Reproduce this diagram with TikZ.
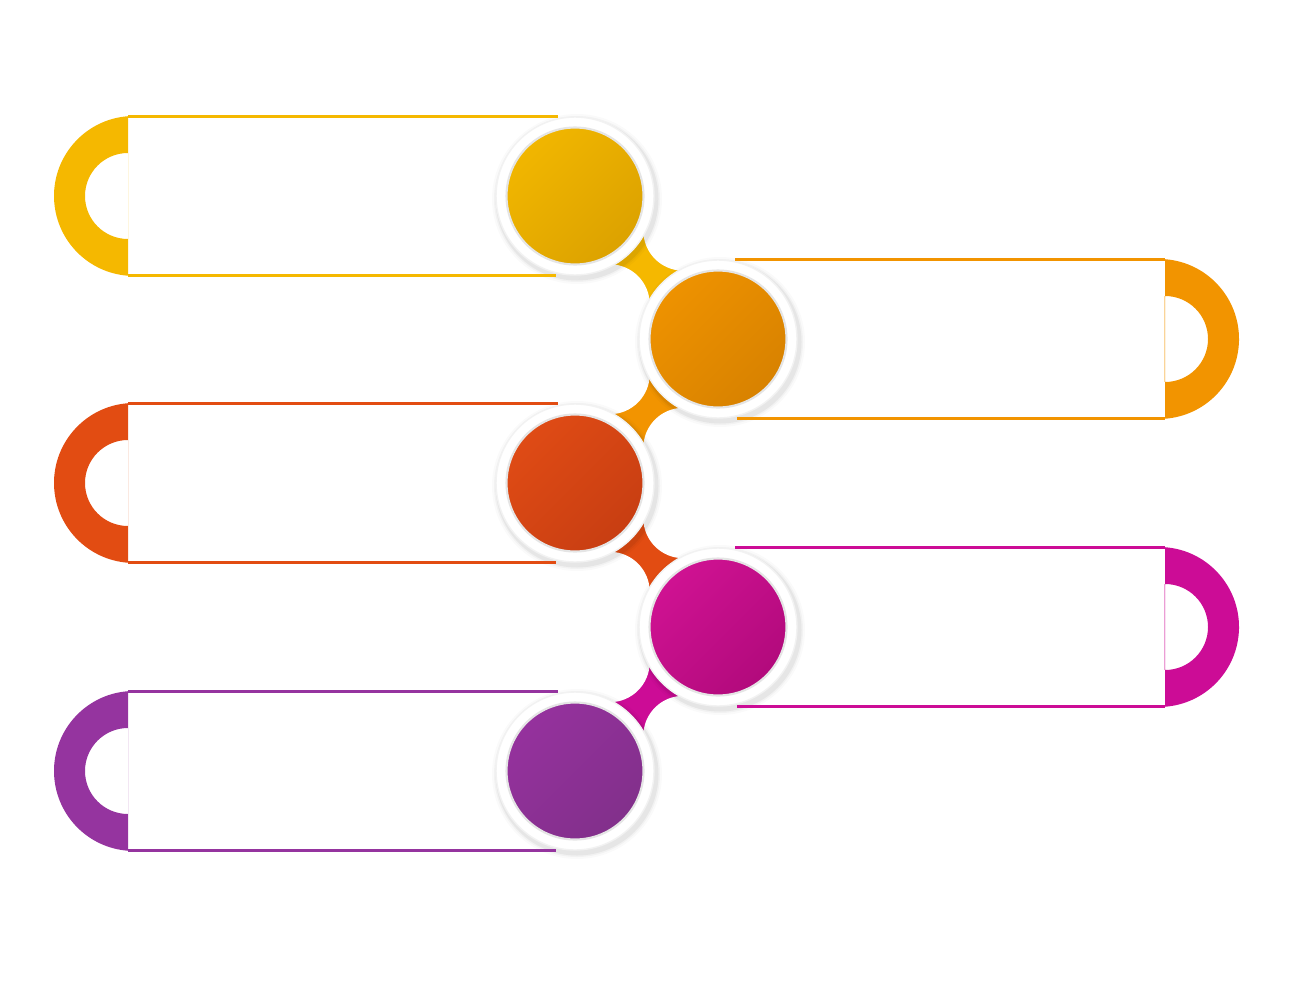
\documentclass[tikz,border=0pt]{standalone}
\usetikzlibrary{calc,backgrounds}
\definecolor{yel}{HTML}{F5B800}
\definecolor{yelA}{HTML}{F1B600}
\definecolor{yelB}{HTML}{DCA200}
\definecolor{ora}{HTML}{F29400}
\definecolor{oraA}{HTML}{EE9200}
\definecolor{oraB}{HTML}{D88200}
\definecolor{rd}{HTML}{E24C12}
\definecolor{rdA}{HTML}{DF4B15}
\definecolor{rdB}{HTML}{C83E12}
\definecolor{mag}{HTML}{CC0C96}
\definecolor{magA}{HTML}{CF1292}
\definecolor{magB}{HTML}{B20A7C}
\definecolor{pur}{HTML}{95349F}
\definecolor{purA}{HTML}{95319D}
\definecolor{purB}{HTML}{82308B}
\begin{document}
\begin{tikzpicture}[x=0.02cm, y=-0.02cm,
  ring/.style={circle, fill=white, draw=black!5, line width=.8pt, minimum size=3.16cm, inner sep=0pt},
  disc/.style 2 args={circle, minimum size=2.74cm, inner sep=0pt, top color=#1, bottom color=#2,
    shading angle=45, draw=black!10, line width=1.2pt},
  bar/.style={line width=1.2pt}]
\useasboundingbox (0,0) rectangle (1293,980);

% bars on the left
\foreach \y/\col in {196/yel, 483/rd, 771/pur}{
  \fill[\col, even odd rule] (128,\y-79.8) arc[start angle=265.7, end angle=94.3, radius=80] -- cycle
    (128,\y+43) arc[start angle=90, end angle=270, radius=43] -- cycle;
  \draw[\col, bar] (128,\y-79.5) -- (558,\y-79.5) (128,\y+79.5) -- (556,\y+79.5);
}
% bars on the right
\foreach \y/\col in {339/ora, 627/mag}{
  \fill[\col, even odd rule] (1165,\y-79.8) arc[start angle=-85.7, end angle=85.7, radius=80] -- cycle
    (1165,\y-43) arc[start angle=-90, end angle=90, radius=43] -- cycle;
  \draw[\col, bar] (735,\y-79.5) -- (1165,\y-79.5) (737,\y+79.5) -- (1165,\y+79.5);
  \draw[\col!40, line width=.4pt] (1164.5,\y-43) -- (1164.5,\y+43);
}

% circles
\node[ring] (c1) at (575,196) {};
\node[ring] (c2) at (718,339) {};
\node[ring] (c3) at (575,483) {};
\node[ring] (c4) at (718,627) {};
\node[ring] (c5) at (575,771) {};
\node[disc={yelA}{yelB}] (d1) at (c1) {};
\node[disc={oraA}{oraB}] (d2) at (c2) {};
\node[disc={rdA}{rdB}] (d3) at (c3) {};
\node[disc={magA}{magB}] (d4) at (c4) {};
\node[disc={purA}{purB}] (d5) at (c5) {};

% joints between the circles, shadows under the rings
\begin{scope}[on background layer]
\foreach \a/\b/\s/\col in {c1/c2/1/yel, c2/c3/-1/ora, c3/c4/1/rd, c4/c5/-1/mag}{
  \begin{scope}[shift={($(\a)!0.5!(\b)$)}, xscale=\s]
    \fill[\col] (-35.4,-35.4) -- (-31.8,-2.8) -- (2.8,31.8) -- (35.4,35.4) -- (31.8,2.8) -- (-2.8,-31.8) -- cycle;
    \fill[white] (-36.8,36.8) circle[radius=40] (36.8,-36.8) circle[radius=40];
  \end{scope}
}
\foreach \n in {c1,c2,c3,c4,c5}
  \foreach \r/\o in {85/.02, 83/.03, 81.5/.05}
    \fill[black, opacity=\o] ($(\n)+(2,3)$) circle[radius=\r];
\end{scope}
\end{tikzpicture}
\end{document}
